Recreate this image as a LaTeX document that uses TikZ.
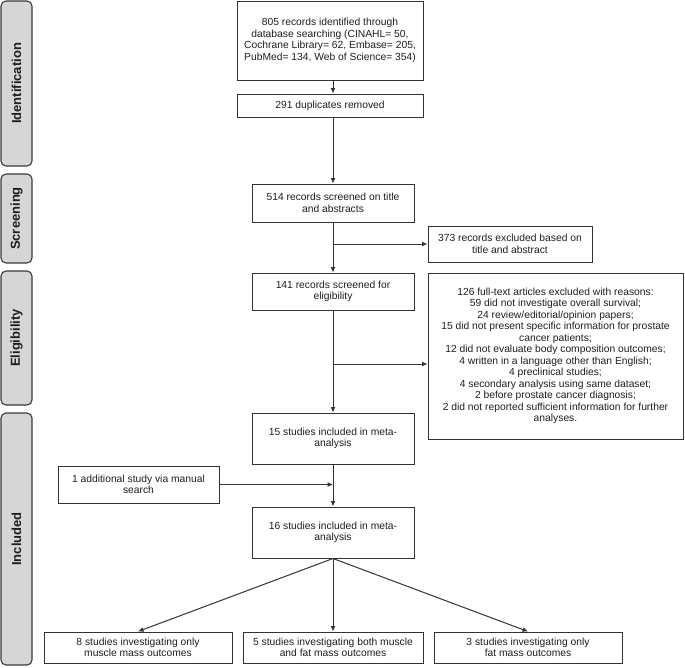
\documentclass[tikz,border=0pt]{standalone}
\usepackage{fontspec}
\setmainfont{Liberation Sans}
\usetikzlibrary{arrows.meta}
\definecolor{barfill}{HTML}{D6D6D6}
\definecolor{barline}{HTML}{3A3A3A}
\definecolor{boxline}{HTML}{333333}
\definecolor{txt}{HTML}{1E1E1E}
\begin{document}
\begin{tikzpicture}[x=1pt,y=-1pt,
  box/.style={draw=boxline, line width=1pt, inner sep=0pt, align=center,
    font=\fontsize{10.3}{11.5}\selectfont, text=txt},
  sidebar/.style={draw=barline, fill=barfill, line width=1.1pt, rounded corners=5pt,
    rotate=90, minimum height=31pt, inner sep=0pt,
    font=\fontsize{13}{15}\selectfont\bfseries, text=txt},
  arr/.style={draw=boxline, line width=1pt, -{Latex[length=5.5pt,width=5pt]}}]
\useasboundingbox (0,0) rectangle (685,667);

% side bars
\node[sidebar, minimum width=165pt] (sId) at (16.5,83.5) {Identification};
\node[sidebar, minimum width=89pt] (sSc) at (16.5,218.5) {Screening};
\node[sidebar, minimum width=134pt] (sEl) at (16.5,338) {Eligibility};
\node[sidebar, minimum width=252pt] (sIn) at (16.5,539) {Included};

% boxes
\node[box, minimum width=186pt, minimum height=79pt] (b805) at (330,40.5)
  {805 records identified through\\database searching (CINAHL= 50,\\Cochrane Library= 62, Embase= 205,\\PubMed= 134, Web of Science= 354)};
\node[box, minimum width=186pt, minimum height=23pt] (b291) at (330,105.5)
  {291 duplicates removed};
\node[box, minimum width=162pt, minimum height=38pt] (b514) at (333,203)
  {514 records screened on title\\and abstracts};
\node[box, minimum width=164pt, minimum height=36pt] (b373) at (510,244)
  {373 records excluded based on\\title and abstract};
\node[box, minimum width=162pt, minimum height=37pt] (b141) at (333,291.5)
  {141 records screened for\\eligibility};
\node[box, minimum width=255pt, minimum height=166pt] (b126) at (555.5,356)
  {126 full-text articles excluded with reasons:\\
   59 did not investigate overall survival;\\
   24 review/editorial/opinion papers;\\
   15 did not present specific information for prostate\\
   cancer patients;\\
   12 did not evaluate body composition outcomes;\\
   4 written in a language other than English;\\
   4 preclinical studies;\\
   4 secondary analysis using same dataset;\\
   2 before prostate cancer diagnosis;\\
   2 did not reported sufficient information for further\\
   analyses.};
\node[box, minimum width=162pt, minimum height=51pt] (b15) at (333,438.5)
  {15 studies included in meta-\\analysis};
\node[box, minimum width=161pt, minimum height=37pt] (bman) at (138.5,484.5)
  {1 additional study via manual\\search};
\node[box, minimum width=162pt, minimum height=51pt] (b16) at (333,532.5)
  {16 studies included in meta-\\analysis};
\node[box, minimum width=188pt, minimum height=31pt] (bA) at (138,647.5)
  {8 studies investigating only\\muscle mass outcomes};
\node[box, minimum width=180pt, minimum height=31pt] (bB) at (333,647.5)
  {5 studies investigating both muscle\\and fat mass outcomes};
\node[box, minimum width=188pt, minimum height=31pt] (bC) at (528,647.5)
  {3 studies investigating only\\fat mass outcomes};

% junctions
\coordinate (j1) at (333,244);
\coordinate (j2) at (333,364);
\coordinate (j3) at (333,484.5);

% connectors
\draw[arr] (b805.south -| b514.north) -- (b291.north -| b514.north);
\draw[arr] (b291.south -| b514.north) -- (b514.north);
\draw[arr] (b514.south) -- (b141.north);
\draw[arr] (j1) -- (b373.west);
\draw[arr] (b141.south) -- (b15.north);
\draw[arr] (j2) -- (b126.west |- j2);
\draw[arr] (b15.south) -- (b16.north);
\draw[arr] (bman.east) -- (j3);
\draw[arr] (b16.south) -- (bA.north);
\draw[arr] (b16.south) -- (bB.north);
\draw[arr] (b16.south) -- (bC.north);
\end{tikzpicture}
\end{document}
